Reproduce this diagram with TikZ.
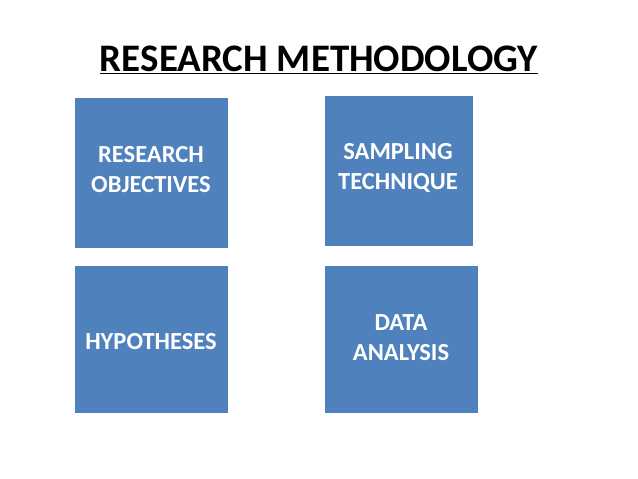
\documentclass[tikz,border=0pt]{standalone}
\usepackage{fontspec}
\setmainfont{Carlito}
\begin{document}
\begin{tikzpicture}[x=1pt,y=-1pt,
  lab/.style={text=white,font=\bfseries\fontsize{24.5}{30}\selectfont,align=center}]
\definecolor{boxblue}{HTML}{4F81BD}
\useasboundingbox (0,0) rectangle (638,479);
\node[font=\bfseries\fontsize{39}{44}\selectfont] (title) at (319,60) {\underline{RESEARCH METHODOLOGY}};
\fill[boxblue] (75,98) rectangle (228,248) coordinate (b1);
\fill[boxblue] (325,96) rectangle (473,246) coordinate (b2);
\fill[boxblue] (75,266) rectangle (228,413) coordinate (b3);
\fill[boxblue] (325,266) rectangle (478,413) coordinate (b4);
\node[lab] (t1) at (151,170) {RESEARCH\\OBJECTIVES};
\node[lab] (t2) at (398,168) {SAMPLING\\TECHNIQUE};
\node[lab] (t3) at (151,342) {HYPOTHESES};
\node[lab] (t4) at (401,338) {DATA\\ANALYSIS};
\end{tikzpicture}
\end{document}
